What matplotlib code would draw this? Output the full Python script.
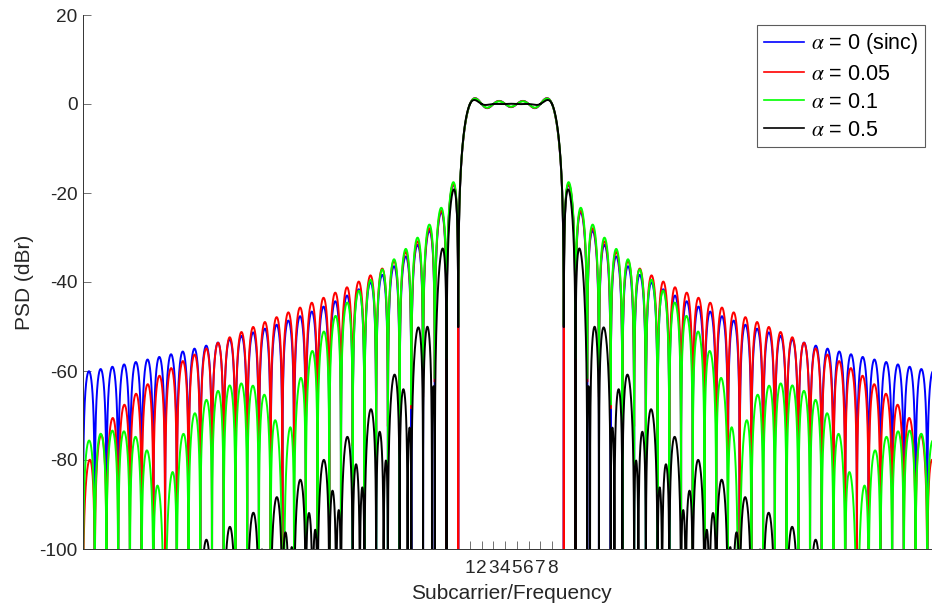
import numpy as np
import matplotlib
matplotlib.use('Agg')
import matplotlib.pyplot as plt

plt.rcParams['font.family'] = ['Liberation Sans', 'DejaVu Sans']
plt.rcParams['mathtext.fontset'] = 'stix'
plt.rcParams['axes.unicode_minus'] = False

# 8 active subcarriers, raised-cosine windowed with different roll-offs
subcarriers = [1, 2, 3, 4, 5, 6, 7, 8]
alphas = [0, 0.05, 0.1, 0.5]
labels = [r'$\alpha$ = 0 (sinc)', r'$\alpha$ = 0.05', r'$\alpha$ = 0.1', r'$\alpha$ = 0.5']
colors = ['#0000ff', '#ff0000', '#00ff00', '#000000']

# frequency axis in subcarrier spacings, 200 points per spacing
f_lo, f_hi, pts_per_bin = -32, 41, 200
freq = np.arange(f_lo * pts_per_bin, f_hi * pts_per_bin + 1) / pts_per_bin


def rc_pulse(x, a):
    # spectrum of one raised-cosine windowed subcarrier
    den = 1 - (2 * a * x) ** 2
    with np.errstate(divide='ignore', invalid='ignore'):
        p = np.sinc(x) * np.cos(np.pi * a * x) / den
    p[np.isclose(den, 0)] = np.nan   # 0/0 points are left out
    return p


fig = plt.figure(figsize=(9.32, 6.04), dpi=100)
ax = fig.add_axes([83 / 932, 55 / 604, 856 / 932, 534 / 604])

for a, lab, c in zip(alphas, labels, colors):
    s = np.zeros_like(freq)
    for k in subcarriers:
        s = s + rc_pulse(freq - k, a)
    psd = 20 * np.log10(np.maximum(np.abs(s), 1e-15))
    ax.plot(freq, psd, color=c, lw=1.4, label=lab)

ax.set_xlim(f_lo, f_hi)
ax.set_ylim(-100, 20)
ax.set_yticks(np.arange(-100, 21, 20))
ax.set_xticks(subcarriers)
ax.set_xticklabels([str(k) for k in subcarriers])

for side in ['top', 'right']:
    ax.spines[side].set_visible(False)
for side in ['left', 'bottom']:
    ax.spines[side].set_color('0.2')
    ax.spines[side].set_linewidth(0.7)
ax.tick_params(direction='in', length=6, width=0.6, color='0.35',
               labelsize=13.7, labelcolor='0.15')
ax.tick_params(axis='x', pad=8)
ax.tick_params(axis='y', pad=4)

ax.set_xlabel('Subcarrier/Frequency', fontsize=15, color='0.15', labelpad=5)
ax.set_ylabel('PSD (dBr)', fontsize=15, color='0.15', labelpad=4)

leg = ax.legend(loc='upper right', bbox_to_anchor=(925 / 932, 1 - 25 / 604),
                bbox_transform=fig.transFigure, borderaxespad=0,
                fontsize=15.5, handlelength=1.85, handletextpad=0.35,
                labelspacing=0.33, borderpad=0.3, fancybox=False)
leg.get_frame().set_edgecolor('0.2')
leg.get_frame().set_linewidth(0.8)
for line in leg.get_lines():
    line.set_linewidth(1.2)

fig.savefig('out.png', dpi=100)
